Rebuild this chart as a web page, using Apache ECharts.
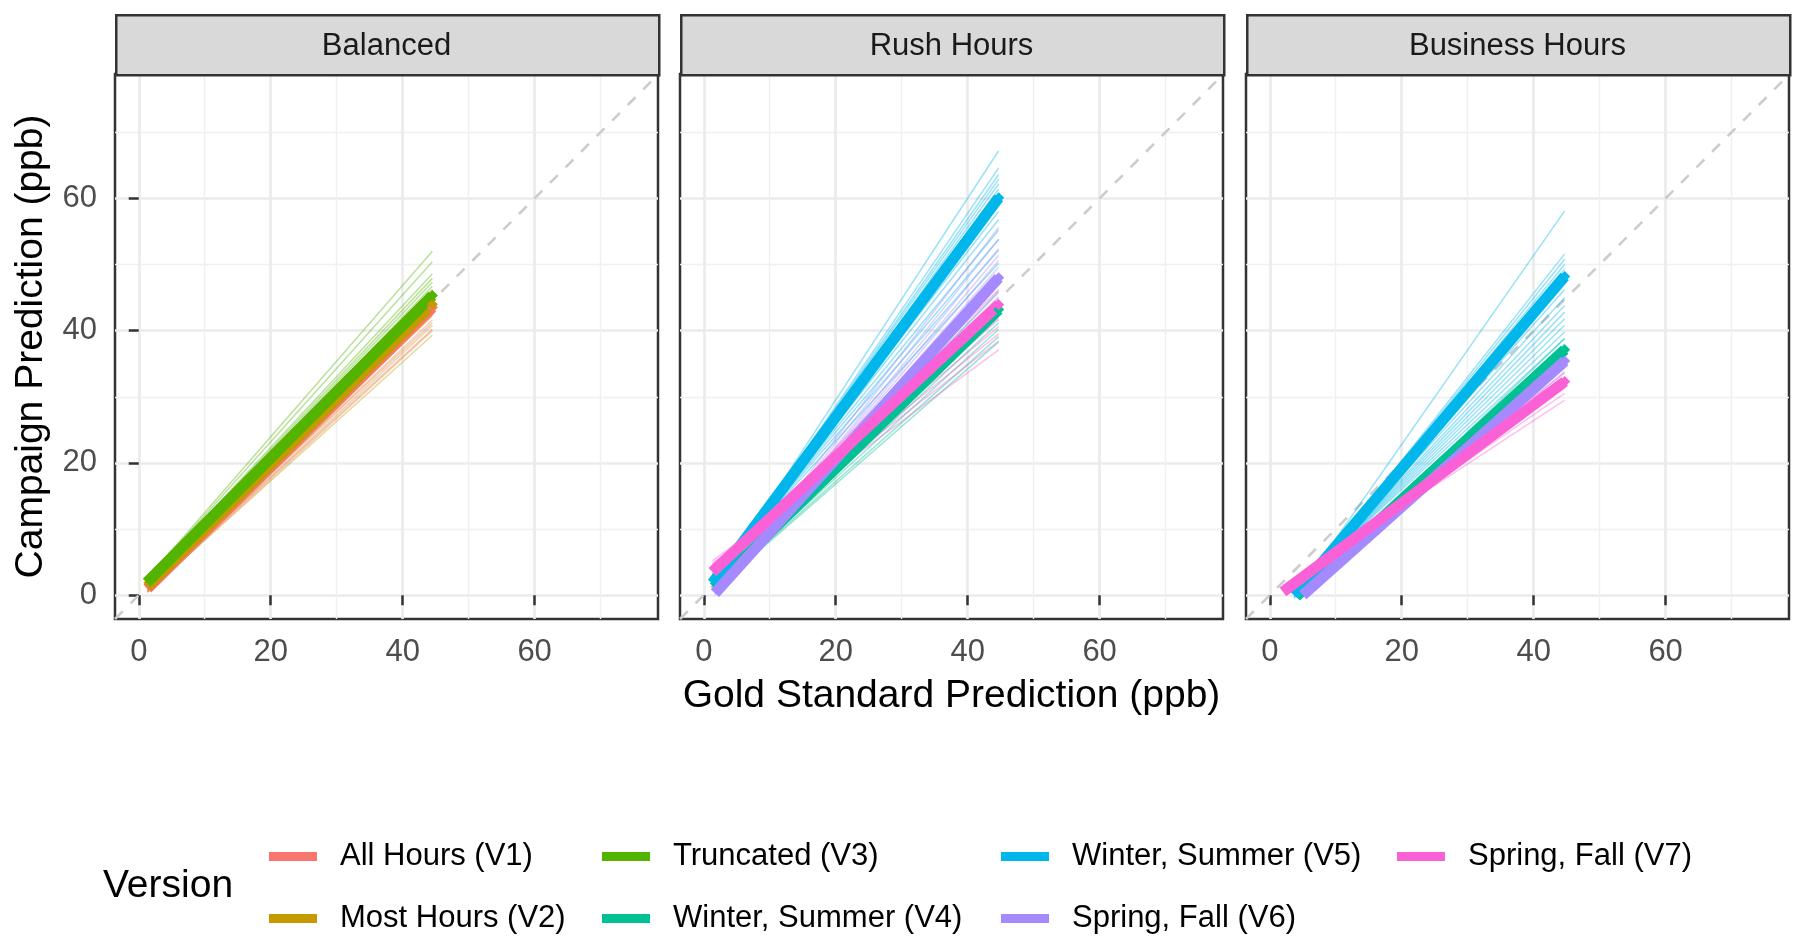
<!DOCTYPE html>
<html><head><meta charset="utf-8">
<script src="https://cdn.jsdelivr.net/npm/echarts@6/dist/echarts.min.js"></script>
<style>html,body{margin:0;padding:0;background:#fff}#chart{width:1800px;height:940px}</style>
</head><body><div id="chart"></div>
<script>
// ---------------- data ----------------
const panels = ['Balanced', 'Rush Hours', 'Business Hours'];
const versionNames = ['All Hours (V1)', 'Most Hours (V2)', 'Truncated (V3)', 'Winter, Summer (V4)',
  'Winter, Summer (V5)', 'Spring, Fall (V6)', 'Spring, Fall (V7)'];
const xTicks = [0, 20, 40, 60];
const yTicks = [0, 20, 40, 60];
const xRange = [-3.6, 78.7];
const yRange = [-3.6, 78.8];
const identityLine = [[-3.6, -3.6], [78.8, 78.8]];

// fitted (thick) lines: [versionIndex, x0, y0, x1, y1]
const balancedFits = [[0, 1.3, 1.0, 44.5, 43.5], [1, 1.3, 1.3, 44.5, 44.0], [2, 1.2, 1.9, 44.5, 45.3]];
const rushFits = [[3, 1.5, 1.2, 44.7, 43.2], [4, 1.3, 1.8, 44.7, 60.1], [5, 1.7, 0.3, 44.7, 48.0], [6, 1.3, 3.5, 44.7, 43.9]];
const businessFits = [[3, 4.0, -0.2, 44.7, 37.1], [4, 3.7, 0.0, 44.7, 48.2], [5, 5.0, 0.0, 44.7, 35.4], [6, 2.0, 0.5, 44.7, 32.3]];

// replicate (thin) lines: start y and end y per version
const balancedRepStart = {
  0: [1.6, 1.3, 1.2, 0.9, 0.8, 0.7, 0.6, 0.5, 0.4],
  1: [1.7, 1.5, 1.2, 1.0, 0.9, 0.7, 0.5],
  2: [2.4, 2.3, 2.2, 2.1, 2.0, 2.0, 1.9, 1.8, 1.7, 1.6, 1.5, 1.3]
};
const balancedRepEnd = {
  0: [46.2, 45.4, 44.8, 44.1, 43.0, 42.4, 41.6, 40.8, 40.0],
  1: [45.8, 44.6, 43.2, 42.2, 41.2, 40.2, 39.3],
  2: [52.0, 50.4, 48.6, 47.9, 47.3, 46.7, 46.1, 45.6, 44.9, 44.3, 43.6, 42.7]
};
const rushRepStart = {
  3: [1.5, 1.4, 1.2, 1.0, 0.9, 0.8, 0.7],
  4: [1.0, 1.3, 1.5, 1.6, 1.4, 1.7, 2.0, 2.1, 2.3, 2.5, 2.6, 2.8, 3.0],
  5: [0.0, 0.2, 0.3, 0.5, 0.4, 0.6, 0.8, 1.0, 1.2, 1.5, 1.8],
  6: [3.0, 3.3, 3.6, 4.0, 4.2, 4.4, 4.6, 4.8, 5.2]
};
const rushRepEnd = {
  3: [45.8, 44.6, 42.3, 41.2, 40.2, 39.1, 38.3],
  4: [67.2, 64.6, 63.6, 62.9, 62.2, 61.4, 59.2, 58.0, 56.8, 55.2, 53.8, 52.2, 50.2],
  5: [55.6, 53.8, 52.4, 51.4, 50.6, 49.6, 47.0, 46.0, 44.8, 43.4, 42.0],
  6: [47.6, 46.2, 45.1, 42.6, 41.7, 40.6, 39.5, 38.4, 37.1]
};
const businessRepStart = {
  3: [-0.3, -0.2, 0.0, 0.2],
  4: [-0.5, -0.3, -0.2, -0.1, 0.0, 0.1, 0.2, 0.3, 0.4, 0.5, 0.6, 0.7, 0.8, 0.9],
  5: [0.1, -0.1, 0.2],
  6: [0.8, 0.6, 1.2, 1.5]
};
const businessRepEnd = {
  3: [38.8, 38.0, 36.2, 35.5],
  4: [58.1, 51.6, 50.8, 50.0, 49.3, 47.4, 46.2, 45.0, 43.8, 42.8, 41.8, 40.8, 39.8, 38.8],
  5: [36.6, 34.4, 33.8],
  6: [33.6, 31.4, 30.5, 29.5]
};

// ---------------- style / layout ----------------
const palette = ['#F8766D', '#C49A00', '#53B400', '#00C094', '#00B6EB', '#A58AFF', '#FB61D7'];
const FONT = "'Liberation Sans', Arial, Helvetica, sans-serif";
const gridLefts = [115, 680, 1246];
const gridTop = 74, gridW = 543, gridH = 545;
const stripTop = 14, stripH = 60;

const panelFits = [balancedFits, rushFits, businessFits];
const panelRepStart = [balancedRepStart, rushRepStart, businessRepStart];
const panelRepEnd = [balancedRepEnd, rushRepEnd, businessRepEnd];

const grids = [], xAxes = [], yAxes = [], series = [], graphics = [];

panels.forEach((pname, p) => {
  grids.push({ left: gridLefts[p], top: gridTop, width: gridW, height: gridH,
    show: true, borderColor: '#333333', borderWidth: 2.5, backgroundColor: '#ffffff' });
  xAxes.push({
    type: 'value', gridIndex: p, min: xRange[0], max: xRange[1],
    axisLine: { show: false },
    axisTick: { show: true, length: 10, customValues: xTicks, lineStyle: { color: '#333333', width: 2.5 } },
    axisLabel: { customValues: xTicks, margin: 18,
      fontSize: 31, color: '#4D4D4D', fontFamily: FONT },
    splitLine: { show: true, lineStyle: { color: '#EBEBEB', width: 2.7 } },
    minorTick: { show: false, splitNumber: 2 },
    minorSplitLine: { show: true, lineStyle: { color: '#F0F0F0', width: 1.4 } },
    name: p === 1 ? 'Gold Standard Prediction (ppb)' : '',
    nameLocation: 'middle', nameGap: 58,
    nameTextStyle: { fontSize: 39, color: '#000000', fontFamily: FONT }
  });
  yAxes.push({
    type: 'value', gridIndex: p, min: yRange[0], max: yRange[1],
    axisLine: { show: false },
    axisTick: { show: p === 0, length: 10, customValues: yTicks, lineStyle: { color: '#333333', width: 2.5 } },
    axisLabel: { show: p === 0, customValues: yTicks, margin: 18,
      fontSize: 31, color: '#4D4D4D', fontFamily: FONT },
    splitLine: { show: true, lineStyle: { color: '#EBEBEB', width: 2.7 } },
    minorTick: { show: false, splitNumber: 2 },
    minorSplitLine: { show: true, lineStyle: { color: '#F0F0F0', width: 1.4 } },
    name: p === 0 ? 'Campaign Prediction (ppb)' : '',
    nameLocation: 'middle', nameGap: 64,
    nameTextStyle: { fontSize: 39, color: '#000000', fontFamily: FONT }
  });

  // identity dashed line
  series.push({
    type: 'line', xAxisIndex: p, yAxisIndex: p, data: identityLine, symbol: 'none', silent: true,
    lineStyle: { color: '#CCCCCC', width: 2.6, type: [11, 11] }, z: 1, animation: false
  });

  const fits = panelFits[p];
  // thin replicate lines
  fits.forEach(f => {
    const v = f[0];
    const starts = panelRepStart[p][v], ends = panelRepEnd[p][v];
    series.push({
      type: 'lines', coordinateSystem: 'cartesian2d', xAxisIndex: p, yAxisIndex: p,
      name: versionNames[v] + ' replicates', silent: true, z: 2, animation: false,
      data: starts.map((s, i) => ({ coords: [[f[1], s], [f[3], ends[i]]] })),
      lineStyle: { color: palette[v], width: 1.5, opacity: 0.4 }
    });
  });
  // thick fitted lines
  fits.forEach(f => {
    const v = f[0];
    series.push({
      type: 'line', xAxisIndex: p, yAxisIndex: p, name: versionNames[v], z: 3, animation: false,
      data: [[f[1], f[2]], [f[3], f[4]]],
      symbol: (val, params) => params.dataIndex === 1 ? 'diamond' : 'none',
      symbolSize: 11, showSymbol: true,
      itemStyle: { color: palette[v] },
      lineStyle: { color: palette[v], width: 11, cap: 'butt' },
      emphasis: { disabled: true }
    });
  });

  // strip
  graphics.push({ type: 'rect', left: gridLefts[p], top: stripTop, z: 10,
    shape: { width: gridW, height: stripH },
    style: { fill: '#D9D9D9', stroke: '#333333', lineWidth: 2.5 } });
  graphics.push({ type: 'text', x: gridLefts[p] + gridW / 2, y: stripTop + stripH / 2 + 2, z: 11,
    style: { text: pname, fontSize: 31, fontFamily: FONT, fill: '#1A1A1A', align: 'center', verticalAlign: 'middle' } });
});

// legend title
graphics.push({ type: 'text', x: 103, y: 886, z: 11,
  style: { text: 'Version', fontSize: 39, fontFamily: FONT, fill: '#000000', align: 'left', verticalAlign: 'middle' } });

// legend: column-major layout, one legend component per key
const legendLefts = [264, 264, 597, 597, 996, 996, 1392];
const legendTops = [836, 898, 836, 898, 836, 898, 836];
const legends = versionNames.map((name, v) => ({
  orient: 'horizontal', left: legendLefts[v], top: legendTops[v],
  itemWidth: 48, itemHeight: 9, icon: 'rect', selectedMode: false,
  data: [{ name: name, icon: 'rect', itemStyle: { color: palette[v] } }],
  textStyle: { fontSize: 31, color: '#000000', fontFamily: FONT, padding: [0, 0, 0, 18] }
}));

const chart = echarts.init(document.getElementById('chart'), null, { renderer: 'canvas' });
chart.setOption({
  backgroundColor: '#ffffff',
  animation: false,
  grid: grids, xAxis: xAxes, yAxis: yAxes, series: series,
  legend: legends, graphic: graphics
});
</script></body></html>
